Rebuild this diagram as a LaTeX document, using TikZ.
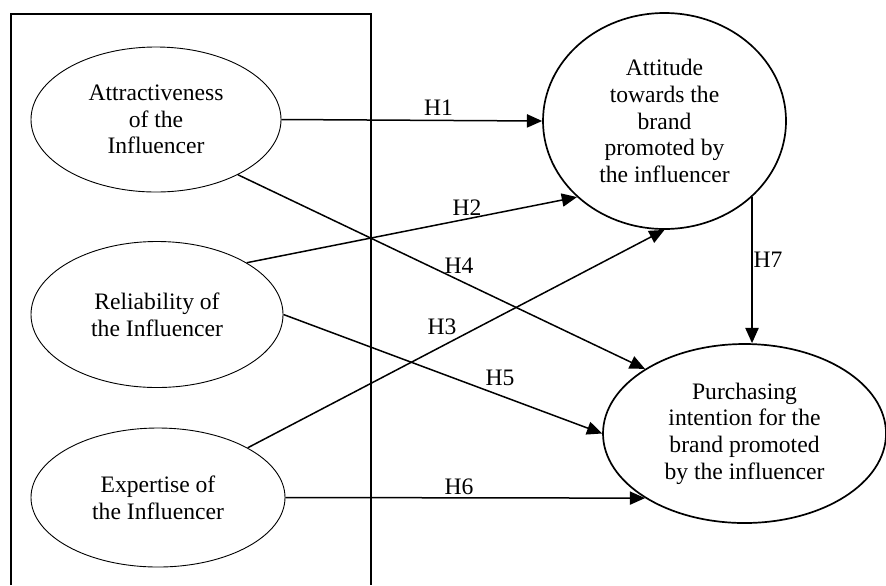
\documentclass[tikz,border=0pt]{standalone}
\usepackage{fontspec}
\setmainfont{Liberation Serif}
\usetikzlibrary{shapes.geometric,arrows.meta}
\tikzset{
  px/.style={x=0.5pt,y=-0.5pt},
  txt/.style={font=\fontsize{11.8}{13.35}\selectfont},
  thinell/.style={ellipse,draw,line width=0.45pt,inner sep=0pt,align=center,txt},
  thickell/.style={ellipse,draw,line width=0.85pt,inner sep=0pt,align=center,txt},
  hyp/.style={line width=0.75pt,-{Triangle[length=7.6pt,width=6.6pt]}},
  hlab/.style={inner sep=0pt,txt}
}
\begin{document}
\begin{tikzpicture}[px]
\useasboundingbox (0,0) rectangle (886,585);
\draw[line width=0.75pt] (11,585) -- (11,14) -- (371,14) -- (371,585);
\node[thinell,minimum width=125pt,minimum height=72.5pt] (attr) at (156,119.5) {Attractiveness\\of the\\Influencer};
\node[thinell,minimum width=126pt,minimum height=73pt] (rel) at (157,314.5) {Reliability of\\the Influencer};
\node[thinell,minimum width=127pt,minimum height=69.5pt] (exp) at (158,497.5) {Expertise of\\the Influencer};
\node[thickell,minimum width=121.5pt,minimum height=108pt] (att) at (664.5,121) {Attitude\\towards the\\brand\\promoted by\\the influencer};
\node[thickell,minimum width=141.5pt,minimum height=89.5pt] (pur) at (744.5,433.5) {Purchasing\\intention for the\\brand promoted\\by the influencer};
\draw[hyp] (attr.east) -- (att.west);
\draw[hyp] (rel.30) -- (att.221);
\draw[hyp] (exp.29) -- (att.south);
\draw[hyp] (attr.-34) -- (pur.147.5);
\draw[hyp] (rel.east) -- (pur.west);
\draw[hyp] (exp.east) -- (pur.213);
\draw[hyp] (att.-41.6) -- (att.-41.6 |- pur.north);
\node[hlab] (h1) at (438.5,108) {H1};
\node[hlab] (h2) at (467,208) {H2};
\node[hlab] (h3) at (442,327) {H3};
\node[hlab] (h4) at (459,266) {H4};
\node[hlab] (h5) at (500,378) {H5};
\node[hlab] (h6) at (459,487) {H6};
\node[hlab] (h7) at (768,260) {H7};
\end{tikzpicture}
\end{document}
